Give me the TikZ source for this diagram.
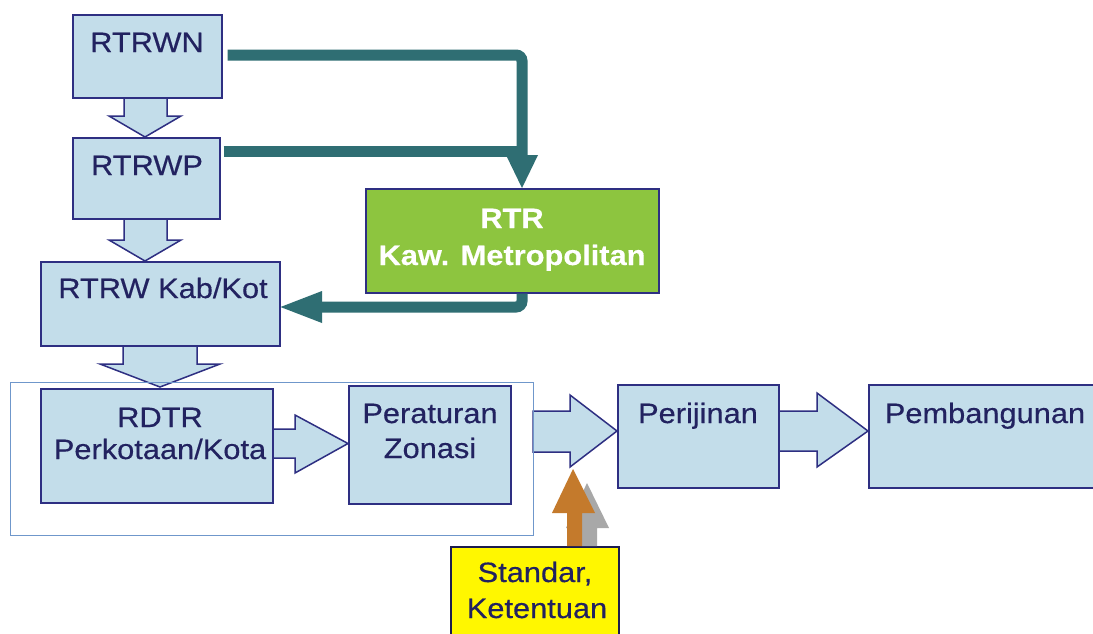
\documentclass[tikz,border=0pt]{standalone}
\usepackage{fontspec}
\setmainfont{Liberation Sans}[FakeStretch=1.1,FakeBold=0.4]
\usetikzlibrary{calc}
\definecolor{boxfill}{HTML}{C3DDEA}
\definecolor{navy}{HTML}{2E2F82}
\definecolor{txtnavy}{HTML}{222260}
\definecolor{metrogreen}{HTML}{8DC53F}
\definecolor{teal}{HTML}{2F6E73}
\definecolor{orangearr}{HTML}{C47A2C}
\definecolor{grayarr}{HTML}{A8A8A8}
\definecolor{yellowbox}{HTML}{FFF700}
\definecolor{framecol}{HTML}{6F97CB}
\begin{document}
\begin{tikzpicture}[x=1pt,y=-1pt,
  box/.style={draw=navy,line width=1.5pt,fill=boxfill,inner sep=0pt,anchor=north west,minimum width=#1},
  blockarr/.style={draw=navy,line width=1.5pt,fill=boxfill,line join=miter},
  txt/.style={font=\fontsize{28}{33}\selectfont,text=txtnavy,inner sep=0pt,anchor=base},
  wtxt/.style={font=\fontsize{28}{33}\selectfont\bfseries,text=white,inner sep=0pt,anchor=base},
  tealline/.style={draw=teal,line width=11pt,rounded corners=6pt},
  tealhead/.style={fill=teal}]
\useasboundingbox (0,0) rectangle (1093,633);
\fill[white] (0,0) rectangle (1093,633);

% block arrows (drawn beneath boxes)
\draw[blockarr] (124,97) -- (124,116) -- (109,116) -- (145,137) -- (181,116) -- (167,116) -- (167,97) -- cycle;
\draw[blockarr] (124,218) -- (124,240) -- (109,240) -- (145,261) -- (181,240) -- (167,240) -- (167,218) -- cycle;
\draw[blockarr] (123,345) -- (123,364) -- (100,364) -- (160,387) -- (220,364) -- (197,364) -- (197,345) -- cycle;
\draw[blockarr] (272,429) -- (295,429) -- (295,415) -- (348,443.5) -- (295,473) -- (295,458) -- (272,458) -- cycle;
\draw[blockarr] (533,411) -- (570,411) -- (570,395) -- (617,431) -- (570,467) -- (570,452) -- (533,452) -- cycle;
\draw[blockarr] (778,411) -- (817,411) -- (817,393) -- (868,431) -- (817,467) -- (817,451) -- (778,451) -- cycle;

% frame around RDTR and Peraturan Zonasi
\node[draw=framecol,line width=1.2pt,inner sep=0pt,anchor=north west,minimum width=523pt,minimum height=153pt] (frame) at (10,382) {};

% boxes
\node[box=149pt,minimum height=83pt] (rtrwn) at (72,14) {};
\node[box=147pt,minimum height=81pt] (rtrwp) at (72,137) {};
\node[box=239pt,minimum height=84pt] (kab) at (40,261) {};
\node[box=232pt,minimum height=114pt] (rdtr) at (40,388) {};
\node[box=162pt,minimum height=118pt] (pz) at (348,385) {};
\node[box=161pt,minimum height=103pt] (perijinan) at (617,384) {};
\node[box=240pt,minimum height=103pt] (pemb) at (868,384) {};
\node[draw=navy,line width=1.5pt,fill=metrogreen,inner sep=0pt,anchor=north west,minimum width=293pt,minimum height=104pt] (metro) at (365,188) {};

% texts
\node[txt] (trtrwn) at (147,52) {RTRWN};
\node[txt] (trtrwp) at (147,175) {RTRWP};
\node[txt] (tkab) at (163,298) {RTRW Kab/Kot};
\node[txt] (trdtr1) at (160,427) {RDTR};
\node[txt] (trdtr2) at (160,459) {Perkotaan/Kota};
\node[txt] (tpz1) at (430,423) {Peraturan};
\node[txt] (tpz2) at (430,458) {Zonasi};
\node[txt] (tper) at (698,423) {Perijinan};
\node[txt] (tpemb) at (985,423) {Pembangunan};
\node[wtxt] (tm1) at (512,228) {RTR};
\node[wtxt] (tm2) at (512,265) {Kaw. Metropolitan};

% teal connectors
\draw[tealline] ([xshift=5pt]rtrwn.east |- 0,55) -- (522,55) -- (522,156);
\draw[tealline] ([xshift=3pt]rtrwp.east |- 0,151) -- (527,151);
\fill[tealhead] (506,155) -- (538,155) -- (metro.north -| 522,0) -- cycle;
\draw[tealline] (metro.south -| 522,0) -- (522,307) -- (321,307);
\fill[tealhead] (322,291) -- (322,323) -- (kab.east |- 0,307) -- cycle;

% Standar, Ketentuan
\node[draw=navy!60!black,line width=1.5pt,fill=yellowbox,inner sep=0pt,anchor=north west,minimum width=168pt,minimum height=100pt] (std) at (450,546) {};
\node[txt] (tstd1) at (535,582) {Standar,};
\node[txt] (tstd2) at (537,618) {Ketentuan};

\fill[grayarr] (std.north -| 582,0) -- (582,528) -- (566,528) -- (587,483) -- (609,528) -- (597,528) -- (597,546) -- cycle;
\fill[orangearr] (std.north -| 567,0) -- (567,513) -- (552,513) -- (573,469) -- (595,513) -- (582,513) -- (582,546) -- cycle;
\end{tikzpicture}
\end{document}
